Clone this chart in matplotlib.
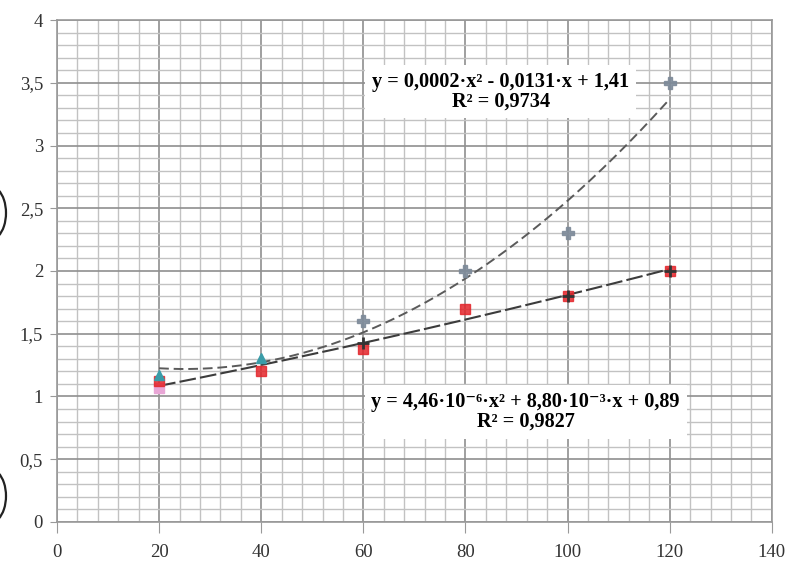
import numpy as np
import matplotlib
matplotlib.use("Agg")
import matplotlib.pyplot as plt
from matplotlib.ticker import MultipleLocator, FuncFormatter
from matplotlib.patches import Arc

plt.rcParams['font.family'] = ['Liberation Serif', 'DejaVu Serif']

# data
x = np.array([20, 40, 60, 80, 100, 120])
upper_y = np.array([1.17, 1.31, 1.60, 2.00, 2.30, 3.50])
lower_y = np.array([1.12, 1.20, 1.38, 1.70, 1.80, 2.00])
cross_x = [60, 100, 120]
cross_y = [1.43, 1.80, 2.00]
pink_x = [20]
pink_y = [1.07]

eq_upper = "y = 0,0002·x² - 0,0131·x + 1,41\nR² = 0,9734"
eq_lower = "y = 4,46·10⁻⁶·x² + 8,80·10⁻³·x + 0,89\nR² = 0,9827"

fig = plt.figure(figsize=(7.86, 5.62), dpi=100)
ax = fig.add_axes([0.0725, 0.0712, 0.9095, 0.8932])

# grid like millimetre paper
ax.set_xlim(0, 140)
ax.set_ylim(0, 4)
ax.xaxis.set_major_locator(MultipleLocator(20))
ax.xaxis.set_minor_locator(MultipleLocator(4))
ax.yaxis.set_major_locator(MultipleLocator(0.5))
ax.yaxis.set_minor_locator(MultipleLocator(0.1))
ax.grid(which='minor', color='#c2c2c2', lw=1.0)
ax.grid(which='major', color='#8f8f8f', lw=1.2)
ax.set_axisbelow(True)

fmt = FuncFormatter(lambda v, p: ('%g' % v).replace('.', ','))
ax.yaxis.set_major_formatter(fmt)
ax.tick_params(axis='x', which='major', length=8, color='#999999', pad=8,
               labelsize=13.5, labelcolor='#333333')
ax.tick_params(axis='y', which='major', length=5, color='#999999', pad=5,
               labelsize=13.5, labelcolor='#333333')
ax.tick_params(which='minor', length=0)
for s in ax.spines.values():
    s.set_color('#999999')
    s.set_linewidth(1.2)

# quadratic trend lines
xx = np.linspace(20, 120, 200)
pu = np.polyfit(x, upper_y, 2)
pl = np.polyfit(x, lower_y, 2)
ax.plot(xx, np.polyval(pu, xx), color='#5a5a5a', lw=1.4, ls=(0, (5, 2.5)), zorder=3)
ax.plot(xx, np.polyval(pl, xx), color='#3c3c3c', lw=1.5, ls=(0, (8, 2)), zorder=3)

# markers
ax.plot(pink_x, pink_y, 's', color='#e9a6d6', ms=7, zorder=4)
ax.plot(x, lower_y, 's', color='#e3262b', ms=7, alpha=0.85, zorder=5)
ax.plot(x[:2], upper_y[:2], '^', color='#3a9ca8', ms=7, zorder=5)
ax.plot(x[2:], upper_y[2:], 'P', color='#7d8a99', ms=9, alpha=0.9, zorder=5)
ax.plot(cross_x, cross_y, '+', color='#333333', ms=9, mew=2, zorder=6)

box = dict(facecolor='white', edgecolor='none', pad=5)
ax.text(86.9, 3.43, eq_upper, ha='center', va='center', fontsize=14.6,
        fontweight='bold', linespacing=1.0, bbox=box, zorder=7)
ax.text(91.8, 0.877, eq_lower, ha='center', va='center', fontsize=14.6,
        fontweight='bold', linespacing=1.0, bbox=box, zorder=7)

# cropped parentheses at the left edge of the page
for cy in (3.49, 0.66):
    fig.patches.append(Arc((-0.10, cy), 0.32, 0.54, theta1=-70, theta2=70,
                           transform=fig.dpi_scale_trans, color='#222222',
                           lw=1.6, figure=fig))

fig.savefig('out.png', dpi=100)
